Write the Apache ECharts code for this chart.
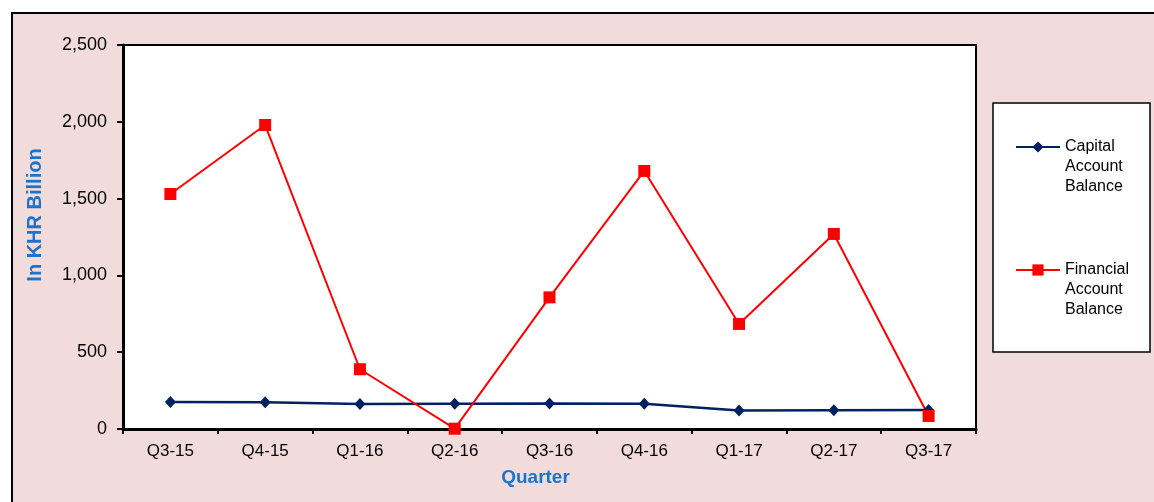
<!DOCTYPE html>
<html>
<head>
<meta charset="utf-8">
<script src="https://cdn.jsdelivr.net/npm/echarts@6/dist/echarts.min.js"></script>
<style>
html,body{margin:0;padding:0;background:#fff;}
#c{width:1154px;height:502px;}
</style>
</head>
<body>
<div id="c"></div>
<script>
var categories = ['Q3-15','Q4-15','Q1-16','Q2-16','Q3-16','Q4-16','Q1-17','Q2-17','Q3-17'];
var capitalBalance = [176, 174, 163, 165, 166, 164, 120, 122, 124];
var financialBalance = [1530, 1979, 389, 2, 857, 1680, 684, 1270, 85];
var yTicks = [0, 500, 1000, 1500, 2000, 2500];

var FONT = "'Liberation Sans', Arial, sans-serif";
var chart = echarts.init(document.getElementById('c'));
chart.setOption({
  animation: false,
  backgroundColor: '#ffffff',
  graphic: [
    {type:'rect', z:-10, shape:{x:12, y:13, width:1200, height:520},
     style:{fill:'#F2DCDB', stroke:'#000', lineWidth:2}},
    {type:'rect', z:1, shape:{x:993, y:103, width:157, height:249},
     style:{fill:'#ffffff', stroke:'#000', lineWidth:1.5}}
  ],
  grid: {left:123, top:45, right:178, bottom:73, show:true,
         backgroundColor:'#ffffff', borderColor:'#000', borderWidth:2},
  legend: {
    orient:'vertical', left:1015, top:97, padding:0, z:10,
    itemWidth:44, itemHeight:14, itemGap:23,
    formatter: function(n){ return ' \n \n' + n.split(' ').join('\n'); },
    textStyle: {fontFamily:FONT, fontSize:16, color:'#000', lineHeight:20},
    data: ['Capital Account Balance','Financial Account Balance']
  },
  xAxis: {
    type:'category', data:categories, boundaryGap:true,
    name:'Quarter', nameLocation:'middle', nameGap:39,
    nameTextStyle:{fontFamily:FONT, fontSize:19, fontWeight:'bold', color:'#1874CD', padding:[0,28,0,0]},
    axisLine:{show:true, lineStyle:{color:'#000', width:3}},
    axisTick:{show:true, length:5, inside:false, lineStyle:{color:'#000', width:2}},
    axisLabel:{fontFamily:FONT, fontSize:17, color:'#000', margin:14},
    splitLine:{show:false}
  },
  yAxis: {
    type:'value', min:0, max:2500, interval:500,
    name:'In KHR Billion', nameLocation:'middle', nameGap:78,
    nameTextStyle:{fontFamily:FONT, fontSize:20, fontWeight:'bold', color:'#1874CD', padding:[0,0,0,44]},
    axisLine:{show:true, lineStyle:{color:'#000', width:3}},
    axisTick:{show:true, length:6, inside:false, lineStyle:{color:'#000', width:2}},
    axisLabel:{fontFamily:FONT, fontSize:18, color:'#000', margin:16,
      formatter:function(v){ return yTicks.indexOf(v) >= 0 ? v.toLocaleString('en-US') : ''; }},
    splitLine:{show:false}
  },
  series: [
    {name:'Capital Account Balance', type:'line', data:capitalBalance,
     symbol:'diamond', symbolSize:[11,12], showAllSymbol:true,
     lineStyle:{color:'#002060', width:2.5}, itemStyle:{color:'#002060'}},
    {name:'Financial Account Balance', type:'line', data:financialBalance,
     symbol:'rect', symbolSize:12, showAllSymbol:true,
     lineStyle:{color:'#FF0000', width:2}, itemStyle:{color:'#FF0000'}}
  ]
});
</script>
</body>
</html>
